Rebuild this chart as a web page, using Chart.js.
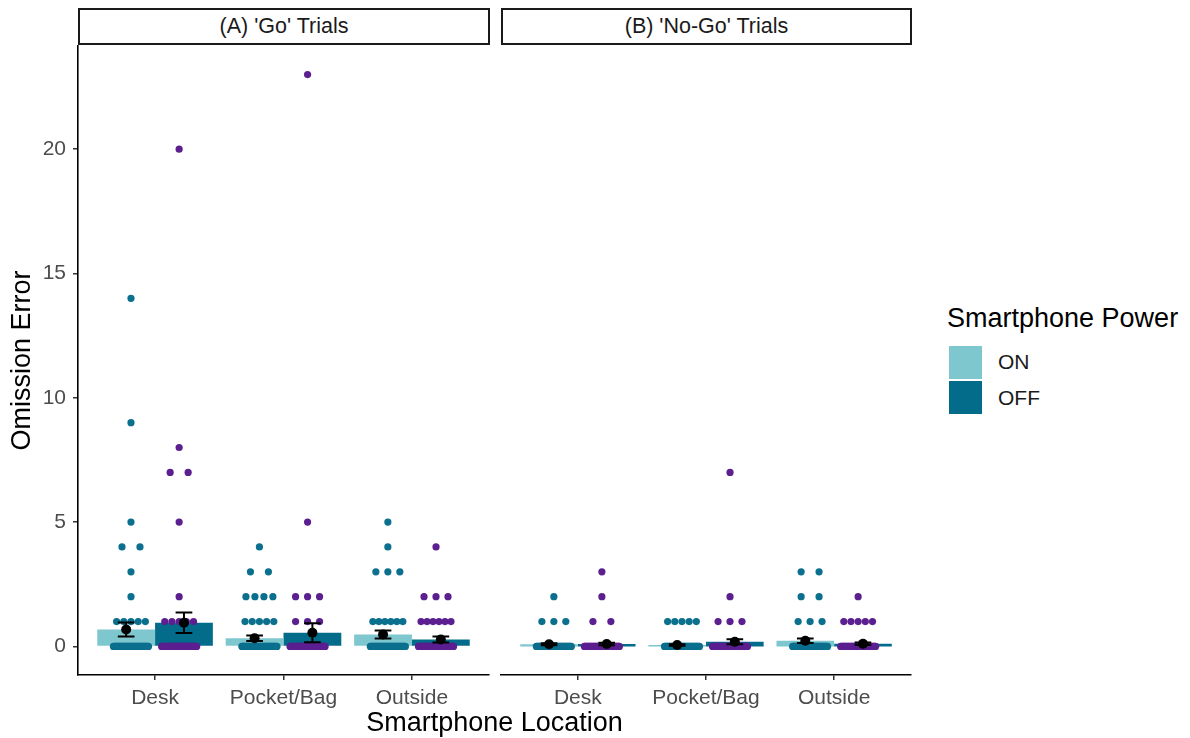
<!DOCTYPE html>
<html>
<head>
<meta charset="utf-8">
<script src="https://cdn.jsdelivr.net/npm/chart.js@4.4.1/dist/chart.umd.min.js"></script>
<style>
  html, body { margin: 0; padding: 0; background: #fff; }
  #wrap { position: relative; width: 1190px; height: 738px; overflow: hidden;
          font-family: "Liberation Sans", Arial, sans-serif; }
  canvas { position: absolute; top: 0; }
  #chartGo { left: 0; }
  #chartNoGo { left: 495px; }
  .strip { position: absolute; top: 8px; height: 37px; box-sizing: border-box;
           border: 2px solid #1a1a1a; font-size: 21.5px; color: #1a1a1a; background: #fff;
           display: flex; align-items: center; justify-content: center; }
  .xtitle { position: absolute; left: 78px; width: 833px; top: 706px; text-align: center;
            font-size: 27px; line-height: 32px; color: #000; }
  .legTitle { position: absolute; left: 947px; top: 302px; font-size: 27px; line-height: 32px; color: #000; }
  .key { position: absolute; left: 949px; width: 33px; height: 33px; }
  .keyLab { position: absolute; left: 998px; font-size: 21px; line-height: 26px; color: #1a1a1a; }
</style>
</head>
<body>
<div id="wrap">
  <canvas id="chartGo" width="490" height="738"></canvas>
  <canvas id="chartNoGo" width="417" height="738"></canvas>
  <div class="strip" id="stripA" style="left:78px;width:412px;"></div>
  <div class="strip" id="stripB" style="left:501px;width:411px;"></div>
  <div class="xtitle" id="xTitle"></div>
  <div class="legTitle" id="legTitle"></div>
  <div class="key" id="keyOn" style="top:346px;"></div>
  <div class="key" id="keyOff" style="top:381px;"></div>
  <div class="keyLab" id="labOn" style="top:349px;"></div>
  <div class="keyLab" id="labOff" style="top:385px;"></div>
</div>
<script>
// ---- data ----
const locations = ['Desk', 'Pocket/Bag', 'Outside'];
const facetTitles = ["(A) 'Go' Trials", "(B) 'No-Go' Trials"];
const powerLevels = ['ON', 'OFF'];
const yTicks = [0, 5, 10, 15, 20];

// mean omission errors and standard errors per location
const goOnMean    = [0.68, 0.33, 0.48];
const goOnSE      = [0.28, 0.11, 0.16];
const goOffMean   = [0.95, 0.55, 0.28];
const goOffSE     = [0.41, 0.38, 0.12];
const noGoOnMean  = [0.09, 0.06, 0.23];
const noGoOnSE    = [0.04, 0.03, 0.09];
const noGoOffMean = [0.10, 0.19, 0.11];
const noGoOffSE   = [0.05, 0.10, 0.05];

// individual scores per location, as [score, number of participants]
const goOnScores = [
  [[0, 40], [1, 5], [2, 1], [3, 1], [4, 2], [5, 1], [9, 1], [14, 1]],
  [[0, 40], [1, 5], [2, 4], [3, 2], [4, 1]],
  [[0, 40], [1, 6], [3, 3], [4, 1], [5, 1]]
];
const goOffScores = [
  [[0, 40], [1, 5], [2, 1], [5, 1], [7, 2], [8, 1], [20, 1]],
  [[0, 40], [1, 3], [2, 3], [5, 1], [23, 1]],
  [[0, 40], [1, 6], [2, 3], [4, 1]]
];
const noGoOnScores = [
  [[0, 40], [1, 3], [2, 1]],
  [[0, 40], [1, 5]],
  [[0, 40], [1, 3], [2, 2], [3, 2]]
];
const noGoOffScores = [
  [[0, 40], [1, 2], [2, 1], [3, 1]],
  [[0, 40], [1, 3], [2, 1], [7, 1]],
  [[0, 40], [1, 5], [2, 1]]
];

// ---- styling ----
const FONT = '"Liberation Sans", Arial, sans-serif';
const COL_ON_BAR = '#7fc7cf';
const COL_OFF_BAR = '#036c8b';
const COL_ON_PT = '#0b6f8e';
const COL_OFF_PT = '#5b1f90';
const BAR_SHIFT = 0.225;     // dodge offset of bars / means (width 0.9)
const POINT_SHIFT = 0.1875;  // dodge offset of individual points
const SPREAD = 0.14;         // half-width of point spread
const CAP = 0.065;           // half-width of error bar caps

// spread tied scores evenly across a small band around the group centre
function spreadPoints(groups, center) {
  const pts = [];
  groups.forEach(([score, n]) => {
    for (let i = 0; i < n; i++) {
      pts.push({ x: center - SPREAD + 2 * SPREAD * (i + 0.5) / n, y: score });
    }
  });
  return pts;
}

const errorBarPlugin = {
  id: 'errorBars',
  afterDatasetsDraw(chart, args, opts) {
    const { ctx } = chart;
    const x = chart.scales.x, y = chart.scales.y;
    ctx.save();
    ctx.strokeStyle = '#000';
    ctx.lineWidth = 2;
    const hw = x.getPixelForValue(1 + CAP) - x.getPixelForValue(1);
    opts.groups.forEach(g => {
      g.mean.forEach((m, i) => {
        const cx = x.getPixelForValue(i + 1 + g.shift);
        const yt = y.getPixelForValue(m + g.se[i]);
        const yb = y.getPixelForValue(Math.max(m - g.se[i], 0));
        ctx.beginPath();
        ctx.moveTo(cx, yt); ctx.lineTo(cx, yb);
        ctx.moveTo(cx - hw, yt); ctx.lineTo(cx + hw, yt);
        ctx.moveTo(cx - hw, yb); ctx.lineTo(cx + hw, yb);
        ctx.stroke();
      });
    });
    ctx.restore();
  }
};

function makeFacet(canvasId, onMean, onSE, offMean, offSE, onScores, offScores, showY) {
  const onPts = [], offPts = [];
  locations.forEach((_, i) => {
    onPts.push(...spreadPoints(onScores[i], i + 1 - POINT_SHIFT));
    offPts.push(...spreadPoints(offScores[i], i + 1 + POINT_SHIFT));
  });
  const meanPts = [];
  locations.forEach((_, i) => {
    meanPts.push({ x: i + 1 - BAR_SHIFT, y: onMean[i] });
    meanPts.push({ x: i + 1 + BAR_SHIFT, y: offMean[i] });
  });

  return new Chart(document.getElementById(canvasId), {
    type: 'bar',
    data: {
      datasets: [
        { type: 'bar', label: powerLevels[0], order: 3, backgroundColor: COL_ON_BAR, borderWidth: 0,
          categoryPercentage: 0.9, barPercentage: 1.0,
          data: onMean.map((v, i) => ({ x: i + 1, y: v })) },
        { type: 'bar', label: powerLevels[1], order: 3, backgroundColor: COL_OFF_BAR, borderWidth: 0,
          categoryPercentage: 0.9, barPercentage: 1.0,
          data: offMean.map((v, i) => ({ x: i + 1, y: v })) },
        { type: 'scatter', order: 2, data: onPts, pointRadius: 3.6, pointBorderWidth: 0,
          pointBackgroundColor: COL_ON_PT, backgroundColor: COL_ON_PT },
        { type: 'scatter', order: 2, data: offPts, pointRadius: 3.6, pointBorderWidth: 0,
          pointBackgroundColor: COL_OFF_PT, backgroundColor: COL_OFF_PT },
        { type: 'scatter', order: 1, data: meanPts, pointRadius: 5, pointBorderWidth: 0,
          pointBackgroundColor: '#000', backgroundColor: '#000' }
      ]
    },
    options: {
      responsive: false,
      animation: false,
      events: [],
      layout: { autoPadding: false, padding: { left: showY ? 0 : 6, right: 1, top: 46, bottom: 0 } },
      plugins: {
        legend: { display: false },
        tooltip: { enabled: false },
        errorBars: { groups: [
          { mean: onMean, se: onSE, shift: -BAR_SHIFT },
          { mean: offMean, se: offSE, shift: BAR_SHIFT }
        ] }
      },
      scales: {
        x: {
          type: 'linear', min: 0.4, max: 3.6, offset: false,
          afterBuildTicks: s => { s.ticks = locations.map((_, i) => ({ value: i + 1 })); },
          afterFit: s => { s.height = 63; },
          grid: { offset: false, drawOnChartArea: false, drawTicks: true, tickLength: 5,
                  color: '#333', lineWidth: 1.5 },
          border: { display: true, color: '#000', width: 1.6 },
          ticks: { callback: v => locations[Math.round(v) - 1], color: '#4d4d4d',
                   font: { size: 21, family: FONT }, padding: 6, maxRotation: 0, autoSkip: false }
        },
        y: {
          display: showY,
          min: -1.15, max: 24.15,
          afterBuildTicks: s => { s.ticks = yTicks.map(v => ({ value: v })); },
          afterFit: s => { s.width = showY ? 78 : 0; },
          grid: { drawOnChartArea: false, drawTicks: true, tickLength: 5, color: '#333', lineWidth: 1.5 },
          border: { display: true, color: '#000', width: 1.6 },
          ticks: { color: '#4d4d4d', font: { size: 21, family: FONT }, padding: 7 },
          title: { display: true, text: 'Omission Error', color: '#000',
                   font: { size: 27, family: FONT }, padding: { top: 6, bottom: 0 } }
        }
      }
    },
    plugins: [errorBarPlugin]
  });
}

makeFacet('chartGo', goOnMean, goOnSE, goOffMean, goOffSE, goOnScores, goOffScores, true);
makeFacet('chartNoGo', noGoOnMean, noGoOnSE, noGoOffMean, noGoOffSE, noGoOnScores, noGoOffScores, false);

document.getElementById('stripA').textContent = facetTitles[0];
document.getElementById('stripB').textContent = facetTitles[1];
document.getElementById('xTitle').textContent = 'Smartphone Location';
document.getElementById('legTitle').textContent = 'Smartphone Power';
document.getElementById('keyOn').style.background = COL_ON_BAR;
document.getElementById('keyOff').style.background = COL_OFF_BAR;
document.getElementById('labOn').textContent = powerLevels[0];
document.getElementById('labOff').textContent = powerLevels[1];
</script>
</body>
</html>
